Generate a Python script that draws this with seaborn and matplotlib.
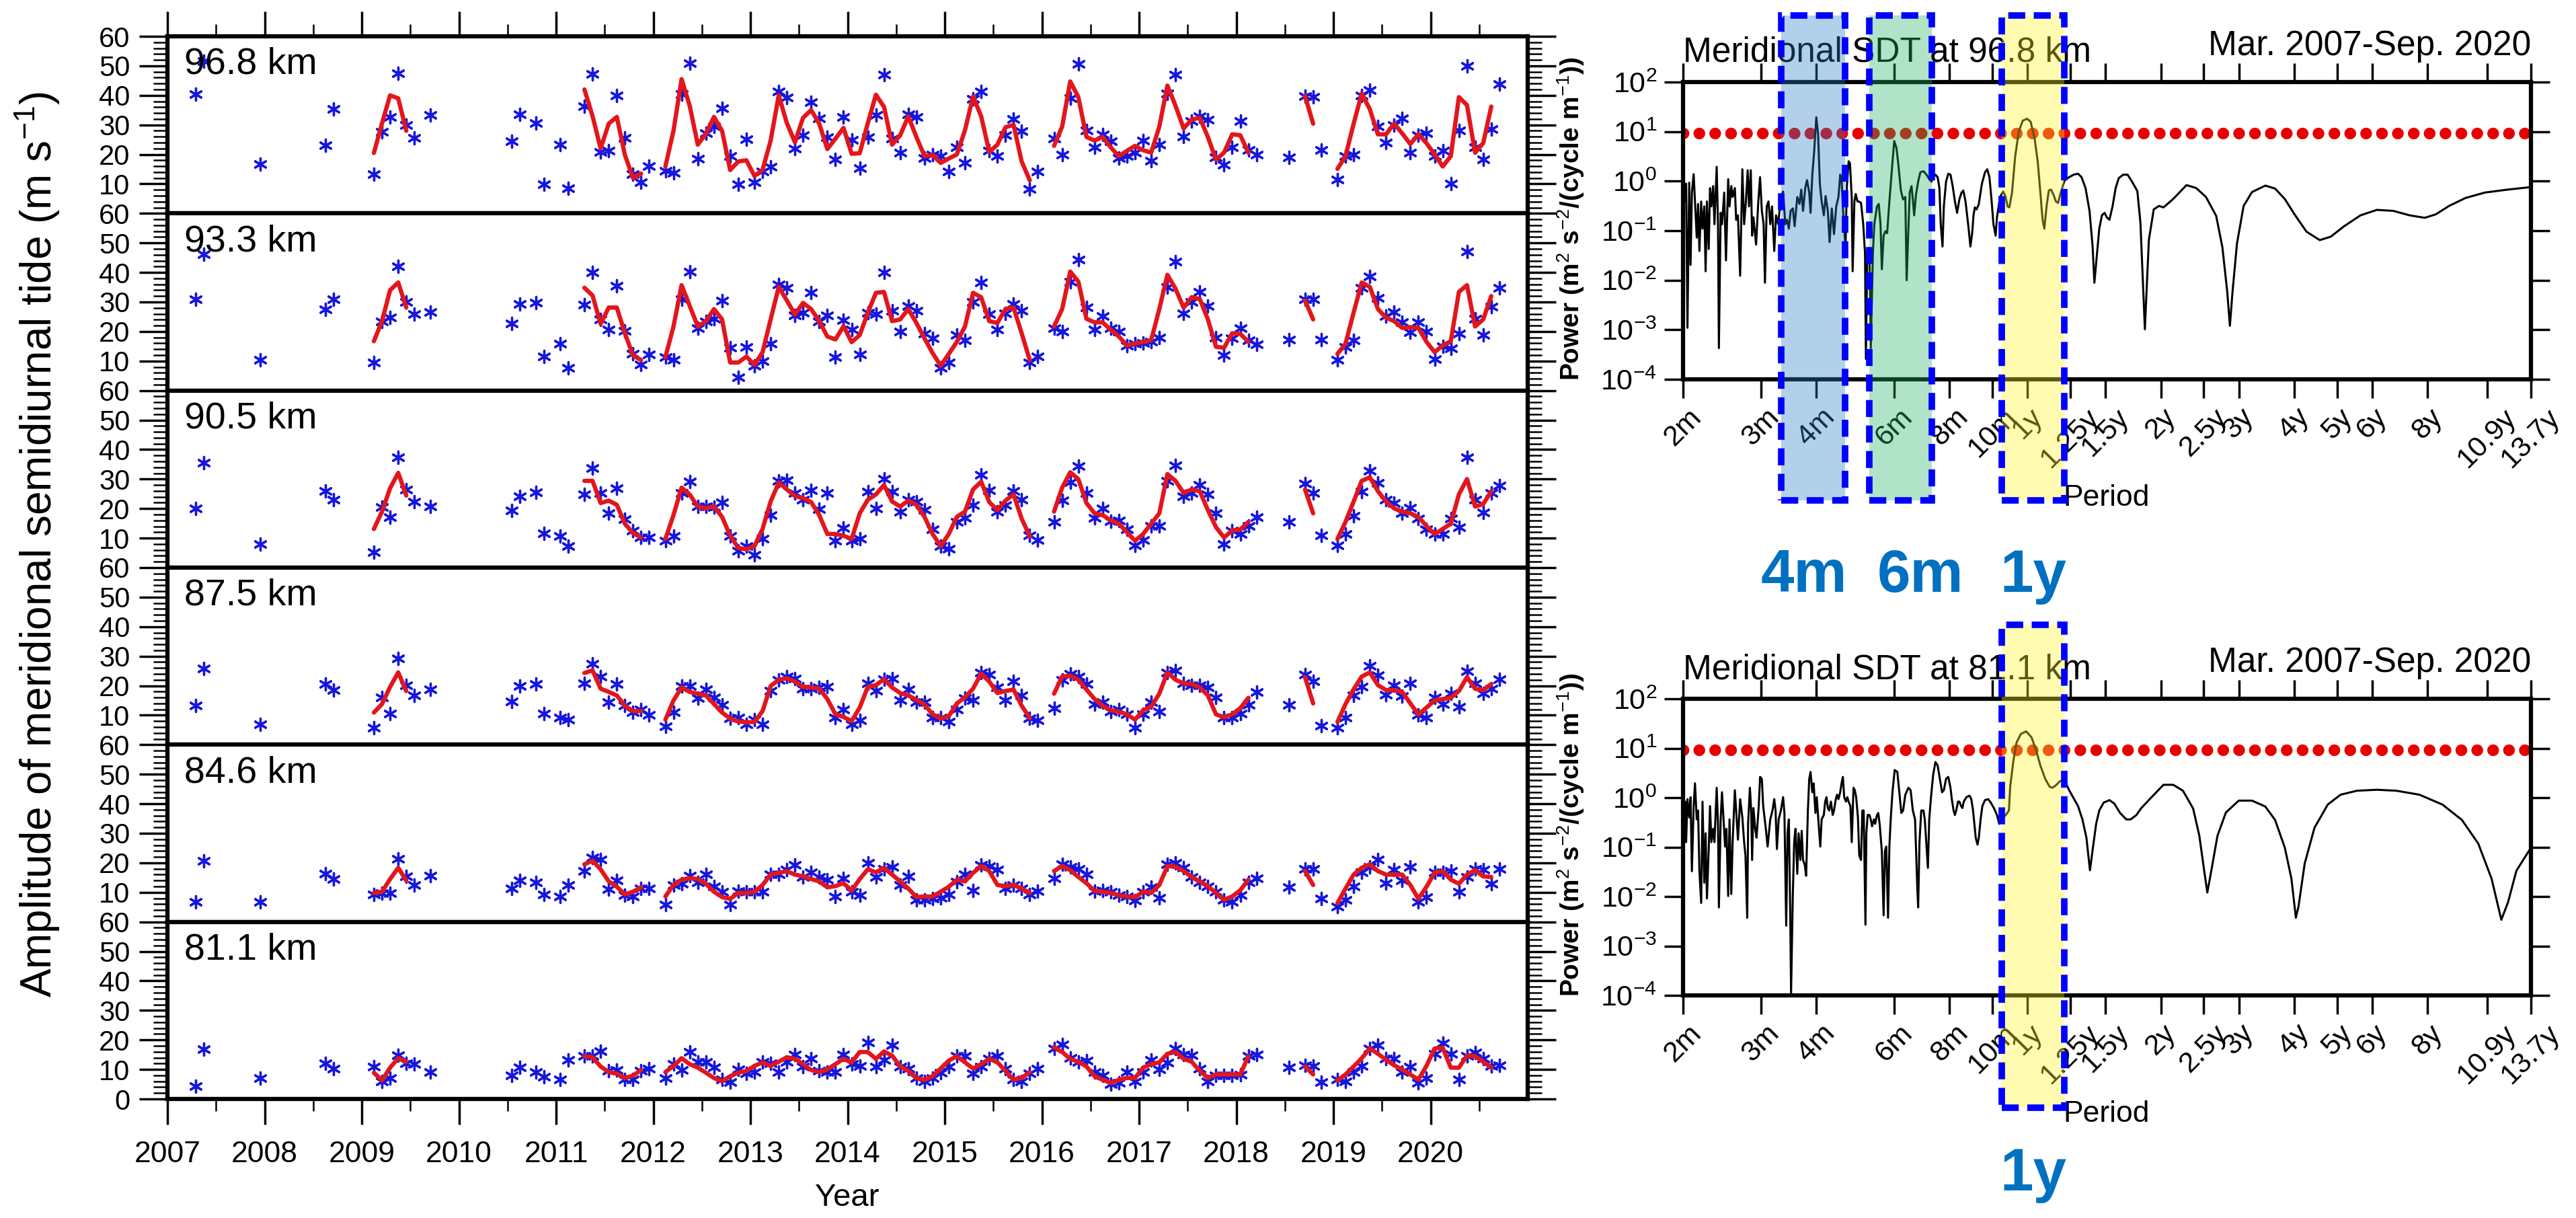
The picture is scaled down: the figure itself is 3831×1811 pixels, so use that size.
import numpy as np
import pandas as pd
import seaborn as sns
import matplotlib
matplotlib.use('Agg')
from matplotlib import pyplot as plt
from matplotlib import transforms
from matplotlib.patches import Rectangle
from matplotlib.ticker import FixedLocator, NullLocator

sns.set_theme(style='ticks', rc={'axes.edgecolor': 'black', 'xtick.color': 'black',
                                 'ytick.color': 'black', 'text.color': 'black'})
plt.rcParams['font.family'] = ['Liberation Sans', 'DejaVu Sans']
plt.rcParams['mathtext.fontset'] = 'custom'
plt.rcParams['mathtext.rm'] = 'Liberation Sans'
plt.rcParams['mathtext.it'] = 'Liberation Sans:italic'
plt.rcParams['mathtext.bf'] = 'Liberation Sans:bold'

#------------------------------------------------
# amplitude time series (months counted from Jan 2007)
#------------------------------------------------
heights = ['96.8 km', '93.3 km', '90.5 km', '87.5 km', '84.6 km', '81.1 km']

obs_months = ([3, 4, 11, 19, 20, 25, 26, 27, 28, 29, 30, 32, 42, 43, 45, 46, 48, 49]
              + list(range(51, 60)) + list(range(61, 108)) + list(range(109, 135))
              + [138, 140, 141, 142] + list(range(144, 165)))
fit_months = (list(range(25, 30)) + list(range(51, 59)) + list(range(61, 107))
              + list(range(109, 134)) + [140, 141] + list(range(144, 164)))

amp_968 = [40.4, 51.5, 16.7, 23.2, 35.5, 13.4, 27.6, 32.7, 47.5, 30.0, 25.6, 33.4, 24.5, 33.6, 30.6, 9.8, 23.3, 8.6,
           36.4, 47.3, 20.9, 21.2, 40.0, 25.6, 13.2, 10.6, 16.1,
           14.5, 13.8, 40.4, 50.8, 18.6, 27.3, 29.4, 35.6, 19.4, 9.8, 25.1, 10.6, 14.1, 15.9, 41.4, 39.2, 21.9, 26.4,
           37.6, 32.1, 25.9, 18.2, 32.7, 24.9, 15.3, 25.9, 33.3, 47.1, 25.3, 20.6, 33.5, 32.6, 18.8, 20.0, 19.4, 14.1,
           22.4, 17.1, 38.8, 41.4, 21.2, 19.4, 26.5, 32.0, 27.9, 8.2, 14.1,
           25.3, 20.0, 39.0, 50.6, 28.2, 22.4, 26.8, 24.5, 18.8, 19.4, 20.6, 24.7, 17.9, 23.3, 40.6, 47.1, 26.1, 31.2,
           32.9, 31.8, 19.1, 16.5, 22.4, 31.2, 21.4, 19.8,
           19.1, 39.8, 39.4, 21.5,
           11.5, 19.4, 19.8, 40.0, 41.8, 29.4, 24.1, 30.0, 32.1, 20.6, 26.5, 27.3, 19.4, 21.2, 10.0, 28.2, 50.0, 22.4,
           18.2, 28.5, 43.9]
fit_968 = [20.5, 30.5, 40.0, 39.0, 28.0,
           42.0, 33.0, 22.0, 30.4, 32.7, 19.8, 12.0, 13.5,
           15.9, 28.0, 45.5, 36.5, 23.3, 27.0, 32.7, 28.0, 14.7, 17.6, 18.0, 12.7, 14.7, 24.7, 40.0, 30.6, 24.1, 32.4,
           35.0, 30.4, 21.8, 25.3, 29.0, 20.2, 20.4, 30.6, 40.2, 36.1, 23.3, 26.5, 32.9, 25.9, 19.4, 19.8, 17.1, 18.6,
           20.0, 28.2, 39.6, 32.9, 20.8, 23.3, 29.2, 30.0, 17.6, 11.2,
           22.9, 29.4, 44.7, 39.4, 25.9, 24.7, 25.9, 22.4, 19.4, 21.2, 22.9, 21.4, 20.6, 29.4, 43.3, 36.5, 28.8, 31.8,
           32.4, 25.9, 18.2, 20.6, 26.8, 26.5, 20.6,
           39.8, 30.4,
           15.1, 19.4, 30.4, 40.6, 35.3, 26.8, 26.8, 30.4, 27.1, 23.5, 26.8, 23.8, 20.0, 15.9, 19.4, 39.4, 36.7, 20.6,
           23.8, 36.2]

amp_933 = [30.8, 46.2, 10.3, 27.6, 30.8, 9.5, 23.5, 24.7, 42.1, 30.1, 25.8, 26.6, 22.7, 29.3, 29.7, 11.6, 15.9, 7.6,
           29.1, 40.1, 24.1, 20.6, 35.5, 20.3, 12.4, 8.7, 12.2,
           11.3, 10.3, 31.0, 40.3, 21.2, 23.5, 24.3, 30.5, 14.5, 4.5, 14.8, 8.4, 9.9, 15.9, 35.9, 34.8, 25.5, 26.4,
           33.1, 23.5, 25.5, 11.3, 23.8, 20.6, 12.2, 26.4, 25.8, 40.1, 27.0, 20.0, 28.7, 27.0, 19.4, 17.7, 7.6, 9.5,
           18.8, 17.1, 29.9, 36.6, 25.8, 20.6, 26.2, 29.3, 27.0, 9.5, 11.6,
           21.2, 20.0, 36.9, 44.4, 28.1, 20.6, 25.2, 21.2, 20.0, 15.3, 15.9, 16.2, 16.5, 18.0, 35.1, 43.6, 26.2, 29.9,
           33.4, 28.7, 18.0, 11.9, 17.7, 21.2, 17.1, 15.7,
           17.3, 31.0, 31.0, 17.3,
           10.3, 14.8, 17.1, 34.8, 38.6, 31.3, 25.2, 26.6, 23.1, 19.7, 23.1, 20.0, 10.7, 15.0, 14.2, 19.4, 47.1, 24.3,
           18.8, 28.5, 34.8]
fit_933 = [16.7, 23.5, 34.0, 36.6, 28.1,
           34.8, 32.2, 22.6, 28.1, 28.1, 19.4, 11.9, 10.3,
           11.3, 21.7, 35.7, 28.7, 21.7, 23.5, 27.6, 24.1, 9.5, 9.5, 11.5, 8.7, 13.0, 24.1, 35.1, 30.5, 25.8, 29.7,
           27.6, 23.5, 18.3, 17.3, 21.8, 16.4, 18.8, 26.4, 33.1, 33.4, 23.5, 24.1, 27.6, 22.9, 17.7, 12.7, 8.4, 12.4,
           16.5, 21.7, 33.1, 31.6, 23.5, 22.9, 27.6, 28.1, 19.4, 10.3,
           21.7, 27.6, 40.3, 36.9, 24.3, 23.1, 23.1, 20.6, 18.3, 15.3, 15.9, 16.5, 17.1, 27.6, 39.2, 34.5, 28.1, 31.6,
           31.0, 24.1, 14.8, 14.5, 19.4, 19.2, 16.5,
           30.5, 24.1,
           12.4, 15.9, 26.4, 36.6, 35.1, 27.6, 24.7, 23.5, 21.2, 21.5, 21.2, 16.5, 13.0, 15.3, 16.7, 33.4, 35.7, 21.7,
           24.1, 32.0]

amp_905 = [20.1, 35.6, 7.9, 25.9, 23.0, 5.3, 20.5, 17.0, 37.3, 26.5, 22.4, 20.7, 19.3, 24.2, 25.6, 11.6, 10.8, 7.3,
           24.8, 33.8, 25.3, 18.4, 26.9, 16.4, 12.6, 10.2, 10.2,
           9.1, 10.6, 25.3, 29.2, 20.7, 20.7, 20.5, 22.2, 10.6, 5.6, 7.3, 4.4, 9.7, 17.8, 29.4, 29.7, 25.3, 23.0,
           26.2, 19.9, 25.3, 9.1, 13.4, 9.1, 9.9, 25.7, 20.1, 30.0, 25.7, 19.0, 23.0, 22.4, 19.5, 12.9, 7.3, 6.4,
           15.5, 16.9, 21.3, 31.5, 26.2, 19.0, 21.3, 25.9, 23.0, 11.0, 9.4,
           15.5, 22.7, 29.0, 34.3, 25.3, 16.9, 20.1, 15.7, 16.0, 12.9, 7.6, 9.4, 14.1, 14.1, 29.4, 34.7, 24.2, 25.3,
           28.0, 24.8, 18.4, 7.9, 12.6, 11.4, 14.1, 17.2,
           15.5, 28.5, 25.3, 11.0,
           7.6, 11.4, 17.6, 25.7, 32.9, 28.8, 23.0, 21.9, 18.4, 20.3, 16.6, 13.1, 11.4, 11.4, 16.6, 13.7, 37.3, 23.0,
           18.7, 25.3, 27.7]
fit_905 = [13.1, 19.0, 26.9, 32.1, 24.4,
           29.4, 29.4, 21.9, 22.7, 21.3, 14.9, 11.7, 10.2,
           9.7, 17.8, 27.1, 24.8, 20.7, 20.1, 20.7, 17.2, 10.8, 6.7, 6.2, 7.3, 13.1, 22.4, 28.8, 26.5, 24.2, 23.6,
           22.2, 17.8, 11.4, 11.4, 10.8, 9.7, 18.4, 23.0, 24.8, 28.0, 22.4, 20.7, 22.7, 21.3, 17.2, 11.4, 7.3, 11.4,
           17.2, 19.0, 26.5, 29.1, 22.2, 19.5, 22.7, 24.8, 16.6, 10.6,
           19.0, 27.1, 32.3, 30.0, 21.9, 18.4, 17.8, 16.0, 14.9, 12.0, 9.1, 11.4, 14.9, 18.4, 31.7, 29.4, 25.3, 26.5,
           25.9, 19.5, 13.7, 10.2, 12.6, 12.9, 15.5,
           26.5, 18.4,
           9.7, 15.5, 22.4, 29.4, 30.6, 25.9, 22.4, 20.1, 19.0, 18.4, 17.2, 14.1, 11.4, 13.1, 14.9, 24.8, 30.0, 20.7,
           21.5, 25.9]

amp_875 = [13.2, 25.8, 7.0, 20.6, 18.5, 5.8, 16.1, 10.6, 29.3, 20.2, 16.7, 18.8, 14.7, 19.9, 20.6, 10.5, 9.3, 8.5,
           20.8, 27.5, 23.1, 14.4, 20.6, 13.2, 10.9, 12.0, 10.0,
           6.2, 10.9, 19.9, 19.9, 15.9, 18.7, 16.1, 13.6, 8.9, 9.3, 7.0, 8.5, 7.0, 18.2, 22.0, 23.1, 22.5, 19.0,
           19.0, 19.4, 19.6, 9.1, 12.0, 7.0, 8.2, 20.8, 18.2, 22.2, 22.5, 15.2, 18.7, 14.4, 14.4, 9.1, 9.1, 7.9,
           12.0, 15.9, 15.2, 24.5, 23.7, 19.4, 15.2, 21.4, 16.7, 8.9, 8.2,
           12.4, 22.0, 24.1, 23.1, 20.6, 13.8, 14.4, 11.2, 12.0, 10.3, 5.8, 10.3, 14.4, 11.2, 24.5, 25.2, 20.8, 20.2,
           20.2, 19.4, 16.1, 9.1, 9.1, 10.5, 13.6, 17.9,
           13.6, 23.7, 21.4, 6.5,
           5.8, 9.3, 16.7, 19.6, 26.8, 23.5, 17.0, 20.2, 16.4, 20.8, 10.0, 9.3, 16.1, 13.8, 17.5, 12.9, 24.9, 20.8,
           17.5, 19.0, 22.2]
fit_875 = [10.9, 13.8, 19.6, 24.5, 18.2,
           24.3, 25.2, 19.0, 17.9, 16.7, 13.2, 11.4, 11.4,
           8.5, 15.0, 19.4, 17.9, 17.3, 16.7, 13.8, 10.9, 8.9, 7.9, 7.6, 7.7, 11.4, 19.9, 22.0, 22.5, 21.4, 19.6,
           19.4, 19.0, 15.5, 10.3, 9.4, 8.0, 12.6, 19.6, 20.2, 22.2, 19.4, 17.5, 16.7, 15.2, 13.6, 10.3, 8.9, 9.7,
           14.0, 16.1, 19.0, 24.1, 21.4, 17.5, 18.2, 18.7, 13.2, 9.1,
           17.3, 23.1, 23.4, 22.0, 18.7, 15.5, 13.2, 11.7, 11.2, 10.3, 8.5, 11.7, 12.9, 17.3, 24.5, 22.0, 20.8, 20.6,
           19.4, 16.7, 10.3, 9.3, 10.3, 12.4, 15.9,
           22.9, 14.0,
           7.7, 13.8, 18.8, 23.1, 24.5, 20.2, 18.5, 18.5, 17.9, 14.0, 10.3, 12.6, 15.0, 15.5, 15.9, 18.2, 22.9, 19.0,
           18.5, 20.6]

amp_846 = [6.7, 20.7, 6.7, 16.4, 14.5, 9.3, 9.8, 9.8, 21.3, 15.4, 12.5, 15.7, 11.3, 14.0, 13.3, 9.2, 8.6, 12.5,
           17.2, 21.8, 21.0, 11.0, 14.0, 9.0, 8.6, 11.3, 11.3,
           5.8, 12.5, 12.9, 15.7, 13.3, 16.0, 11.9, 10.2, 5.8, 10.5, 10.2, 10.2, 10.2, 16.0, 16.0, 17.8, 19.2, 15.2,
           16.8, 15.2, 14.3, 8.6, 14.8, 10.2, 9.0, 19.9, 15.2, 17.9, 18.7, 12.4, 15.4, 7.5, 7.5, 7.8, 8.2, 9.3,
           13.6, 16.0, 10.7, 19.2, 18.9, 17.8, 11.3, 12.5, 11.3, 9.3, 10.5,
           14.8, 19.5, 18.7, 18.0, 16.0, 10.5, 10.7, 10.2, 9.0, 8.6, 7.2, 10.2, 11.7, 8.2, 19.5, 19.9, 18.3, 15.2,
           13.3, 12.1, 10.2, 7.5, 6.7, 9.0, 13.3, 14.8,
           11.7, 18.0, 18.0, 7.8,
           5.1, 7.5, 12.1, 16.8, 18.5, 21.0, 13.1, 17.8, 14.0, 18.7, 6.7, 8.4, 16.8, 16.8, 17.2, 10.2, 15.2, 18.0,
           17.8, 12.9, 18.0]
fit_846 = [9.8, 10.2, 14.5, 18.3, 14.0,
           19.5, 20.7, 17.8, 13.7, 11.9, 9.3, 10.2, 11.7,
           8.6, 12.5, 14.3, 14.8, 14.5, 12.9, 10.2, 8.4, 7.8, 9.8, 9.8, 10.2, 12.5, 16.0, 16.6, 17.2, 16.0, 15.4,
           14.5, 13.7, 11.7, 12.1, 13.1, 10.6, 14.5, 17.8, 16.8, 18.3, 16.0, 13.7, 11.3, 8.4, 8.6, 8.6, 10.2, 11.9,
           14.3, 13.7, 16.6, 18.9, 17.2, 12.5, 12.1, 12.5, 11.3, 9.8,
           17.2, 18.9, 17.5, 15.2, 13.1, 10.5, 10.2, 9.8, 9.0, 8.6, 8.4, 10.2, 9.8, 12.5, 18.9, 18.7, 17.2, 15.2,
           13.7, 12.1, 9.8, 7.5, 8.6, 10.7, 14.3,
           17.2, 12.5,
           6.3, 11.3, 16.0, 18.3, 19.5, 17.2, 16.0, 16.0, 16.0, 12.5, 7.8, 11.9, 16.6, 17.2, 14.3, 12.9, 16.0, 17.5,
           15.4, 15.2]

amp_811 = [4.4, 16.8, 7.1, 12.1, 10.3, 11.0, 6.0, 7.1, 14.7, 12.1, 11.8, 9.1, 7.9, 10.6, 9.1, 7.5, 6.5, 13.3,
           14.5, 14.5, 16.1, 9.5, 9.8, 6.5, 6.5, 9.5, 10.3,
           7.1, 11.8, 9.8, 15.9, 12.6, 12.6, 10.6, 6.5, 5.6, 10.0, 8.6, 9.1, 12.6, 12.1, 9.1, 12.6, 15.0, 11.0,
           13.6, 9.5, 9.1, 9.1, 15.0, 11.8, 11.2, 19.2, 11.0, 13.3, 18.2, 11.0, 10.3, 7.1, 6.0, 7.1, 8.9, 11.0,
           14.5, 14.5, 8.6, 11.0, 13.6, 14.5, 10.3, 6.5, 6.0, 8.6, 10.3,
           17.1, 18.5, 13.8, 12.6, 13.0, 9.1, 7.9, 5.1, 5.4, 9.1, 6.0, 9.1, 13.3, 10.0, 12.4, 17.1, 15.0, 14.7,
           10.3, 6.0, 7.9, 7.9, 7.9, 8.3, 14.5, 15.0,
           10.6, 11.4, 11.2, 5.6,
           6.5, 6.0, 9.1, 11.2, 17.1, 18.2, 13.6, 13.6, 9.1, 11.0, 5.4, 7.1, 15.3, 18.8, 15.3, 6.5, 14.5, 15.7,
           13.6, 11.2, 11.4]
fit_811 = [8.9, 6.3, 10.6, 13.8, 12.6,
           14.5, 14.1, 11.0, 9.1, 8.6, 7.1, 7.9, 9.8,
           9.1, 11.2, 13.8, 11.8, 10.6, 8.9, 7.1, 6.0, 7.7, 8.9, 9.5, 11.2, 12.4, 11.2, 12.6, 14.1, 13.6, 11.8,
           9.8, 9.1, 10.0, 11.8, 13.6, 12.4, 15.9, 15.9, 13.6, 16.1, 14.7, 11.0, 9.5, 7.1, 6.5, 7.7, 10.3, 13.0,
           14.5, 12.4, 10.3, 11.8, 13.6, 12.4, 9.5, 6.5, 7.1, 9.1,
           17.6, 15.9, 13.6, 12.6, 11.0, 7.7, 6.5, 5.4, 6.5, 7.1, 7.1, 10.6, 11.8, 12.4, 15.3, 15.9, 13.6, 12.6,
           9.5, 7.1, 8.3, 8.3, 8.3, 8.3, 14.5,
           11.0, 8.3,
           6.3, 8.3, 11.0, 13.8, 17.1, 15.3, 13.3, 11.4, 10.0, 8.3, 6.5, 11.2, 17.1, 17.3, 10.6, 10.6, 14.7, 14.5,
           12.6, 10.6]

#------------------------------------------------
# power spectra: (log10 period [months], log10 power)
#------------------------------------------------
spec_968 = [(0.303, -0.46), (0.308, -0.05), (0.311, -2.96), (0.315, -0.03), (0.318, -1.69), (0.321, -0.23),
            (0.325, 0.14), (0.328, -0.41), (0.332, -1.14), (0.335, -0.46), (0.338, -1.41), (0.342, -0.41),
            (0.345, -0.96), (0.349, -0.51), (0.352, -1.82), (0.355, -0.41), (0.359, -1.37), (0.362, -0.14),
            (0.365, -0.51), (0.369, -0.10), (0.372, -0.87), (0.377, 0.29), (0.380, -0.87), (0.382, -3.37),
            (0.386, -0.64), (0.389, -0.87), (0.394, -0.23), (0.398, -1.60), (0.403, 0.04), (0.406, -0.51),
            (0.410, -0.10), (0.413, -0.32), (0.418, -0.14), (0.421, -0.78), (0.425, -0.69), (0.430, -1.91),
            (0.435, 0.24), (0.439, -0.87), (0.443, -0.41), (0.447, 0.22), (0.450, -0.51), (0.454, 0.22),
            (0.457, -1.10), (0.460, -0.73), (0.466, -1.28), (0.471, -0.41), (0.475, 0.08), (0.479, -0.60),
            (0.483, -0.87), (0.486, -2.05), (0.490, -0.51), (0.494, -0.41), (0.498, -0.87), (0.502, -0.51),
            (0.507, -1.41), (0.511, -0.69), (0.516, -0.87), (0.522, -0.32), (0.527, -0.21), (0.532, -0.87),
            (0.536, -0.78), (0.540, -0.96), (0.544, -0.60), (0.549, -0.55), (0.553, -0.91), (0.559, -0.32),
            (0.564, -0.46), (0.568, -0.17), (0.572, -0.60), (0.577, -0.14), (0.581, 0.02), (0.586, -0.23),
            (0.589, -0.64), (0.593, 0.13), (0.597, 0.58), (0.602, 1.29), (0.606, 0.95), (0.610, -0.05),
            (0.614, -0.41), (0.619, -0.69), (0.623, -0.30), (0.628, -0.60), (0.632, -1.23), (0.637, -0.55),
            (0.642, -1.07), (0.647, -0.51), (0.652, -0.32), (0.656, 0.13), (0.659, 0.04), (0.664, -0.87),
            (0.668, -1.32), (0.671, -0.10), (0.675, 0.40), (0.678, 0.36), (0.682, -0.32), (0.684, -1.82),
            (0.688, -0.41), (0.691, -0.26), (0.695, -0.41), (0.698, -0.41), (0.703, -0.44), (0.708, -0.87),
            (0.712, -1.46), (0.714, -3.59), (0.717, -1.50), (0.722, -1.41), (0.725, -3.37), (0.730, -1.41),
            (0.733, -0.87), (0.739, -0.51), (0.743, -0.46), (0.747, -0.87), (0.750, -1.78), (0.754, -1.10),
            (0.758, -1.01), (0.762, -1.05), (0.767, -0.41), (0.773, 0.27), (0.778, 0.81), (0.783, 0.67),
            (0.787, 0.36), (0.793, -0.19), (0.798, -0.37), (0.803, -0.32), (0.806, -2.00), (0.810, -0.96),
            (0.813, -0.23), (0.817, -0.10), (0.820, -0.37), (0.823, -0.69), (0.827, -0.28), (0.832, -0.01),
            (0.837, 0.18), (0.844, 0.20), (0.851, 0.13), (0.857, 0.04), (0.862, -0.01), (0.866, 0.08),
            (0.871, 0.13), (0.876, 0.08), (0.880, -0.14), (0.883, -0.87), (0.887, -1.32), (0.890, -0.51),
            (0.895, -0.01), (0.900, 0.15), (0.905, 0.13), (0.910, -0.10), (0.915, -0.41), (0.920, -0.64),
            (0.925, -0.37), (0.930, -0.23), (0.934, -0.19), (0.939, -0.41), (0.946, -0.96), (0.950, -1.32),
            (0.954, -1.05), (0.957, -0.69), (0.960, -0.53), (0.964, -0.57), (0.969, -0.46), (0.976, -0.05),
            (0.983, 0.18), (0.988, 0.24), (0.993, 0.08), (0.998, -0.41), (1.002, -0.87), (1.007, -1.10),
            (1.010, -0.73), (1.017, -0.32), (1.024, -0.21), (1.029, -0.30), (1.034, -0.51), (1.038, -0.53),
            (1.044, -0.23), (1.051, 0.49), (1.059, 0.99), (1.068, 1.22), (1.078, 1.26), (1.086, 1.20),
            (1.095, 0.86), (1.102, 0.40), (1.108, -0.23), (1.113, -0.78), (1.117, -0.96), (1.122, -0.51),
            (1.127, -0.19), (1.132, -0.17), (1.138, -0.28), (1.143, -0.41), (1.148, -0.44), (1.154, -0.23),
            (1.163, 0.02), (1.173, 0.08), (1.183, 0.13), (1.193, 0.15), (1.201, 0.08), (1.210, -0.14),
            (1.219, -0.60), (1.226, -1.32), (1.230, -2.05), (1.235, -1.55), (1.241, -0.96), (1.247, -0.69),
            (1.253, -0.64), (1.258, -0.73), (1.264, -0.78), (1.271, -0.51), (1.278, -0.14), (1.285, 0.06),
            (1.295, 0.13), (1.305, 0.13), (1.315, -0.01), (1.327, -0.20), (1.334, -0.84), (1.344, -2.99),
            (1.353, -1.19), (1.364, -0.57), (1.376, -0.50), (1.386, -0.53), (1.408, -0.36), (1.438, -0.08),
            (1.460, -0.14), (1.482, -0.32), (1.505, -0.70), (1.519, -1.33), (1.530, -2.23), (1.536, -2.92),
            (1.542, -2.23), (1.552, -1.26), (1.567, -0.50), (1.586, -0.22), (1.616, -0.09), (1.638, -0.15),
            (1.660, -0.36), (1.682, -0.67), (1.709, -1.02), (1.739, -1.19), (1.764, -1.12), (1.794, -0.91),
            (1.831, -0.69), (1.868, -0.58), (1.905, -0.60), (1.942, -0.69), (1.976, -0.74), (2.001, -0.67),
            (2.031, -0.50), (2.068, -0.34), (2.112, -0.23), (2.164, -0.17), (2.216, -0.12)]

spec_811 = [(0.303, -0.99), (0.306, -0.08), (0.308, -0.90), (0.311, -0.03), (0.315, -0.40), (0.318, 0.01),
            (0.321, -1.49), (0.325, -0.17), (0.328, 0.29), (0.332, -0.44), (0.335, -0.26), (0.338, -1.49),
            (0.342, -2.13), (0.345, -0.08), (0.349, -1.72), (0.352, -0.72), (0.355, -2.04), (0.359, -1.04),
            (0.362, -0.17), (0.365, -0.90), (0.369, -0.63), (0.372, -0.90), (0.377, 0.20), (0.380, -0.53),
            (0.382, -2.22), (0.386, -0.44), (0.389, 0.11), (0.393, -0.53), (0.396, -0.99), (0.399, -0.63),
            (0.403, -1.99), (0.406, -0.44), (0.410, -1.95), (0.413, -0.90), (0.418, 0.15), (0.421, -0.26),
            (0.425, -0.85), (0.430, -0.03), (0.435, -0.40), (0.439, -0.90), (0.442, -1.17), (0.446, -2.43),
            (0.448, -0.53), (0.452, 0.20), (0.455, -0.26), (0.457, -1.26), (0.460, -0.21), (0.464, -0.63),
            (0.467, -0.81), (0.472, -0.17), (0.475, 0.42), (0.479, 0.38), (0.482, -0.17), (0.488, -0.63),
            (0.492, -0.99), (0.498, -0.44), (0.503, -0.26), (0.507, -0.03), (0.510, -0.26), (0.513, -1.04),
            (0.517, -0.44), (0.522, -0.26), (0.527, 0.01), (0.530, -0.31), (0.534, -2.59), (0.537, -0.72),
            (0.540, -0.44), (0.543, -2.27), (0.545, -3.96), (0.549, -1.95), (0.552, -0.90), (0.555, -0.63),
            (0.559, -1.54), (0.562, -0.72), (0.566, -1.26), (0.569, -0.67), (0.572, -1.26), (0.576, -1.36),
            (0.579, -1.58), (0.583, -0.26), (0.586, 0.38), (0.589, 0.52), (0.593, 0.11), (0.596, 0.29),
            (0.600, -0.31), (0.603, 0.01), (0.608, -0.63), (0.611, -0.99), (0.614, -0.44), (0.619, -0.35),
            (0.622, -0.08), (0.625, 0.01), (0.628, -0.21), (0.631, -0.26), (0.635, -0.08), (0.639, -0.35),
            (0.642, -0.26), (0.646, -0.03), (0.649, 0.06), (0.652, -0.03), (0.656, 0.11), (0.659, 0.29),
            (0.662, 0.42), (0.665, 0.01), (0.669, -0.08), (0.672, 0.01), (0.675, -0.08), (0.679, -0.17),
            (0.682, -0.90), (0.686, 0.20), (0.689, 0.15), (0.692, 0.01), (0.696, -0.40), (0.699, -1.17),
            (0.703, -1.26), (0.706, -0.26), (0.709, -0.26), (0.713, -2.57), (0.715, -0.72), (0.718, -0.35),
            (0.722, -0.35), (0.725, -0.44), (0.728, -0.58), (0.732, -0.44), (0.735, -0.53), (0.739, -0.35),
            (0.742, -0.31), (0.745, -0.53), (0.750, -1.08), (0.754, -2.38), (0.757, -1.08), (0.760, -0.99),
            (0.764, -2.43), (0.767, -0.99), (0.770, -0.44), (0.774, 0.11), (0.779, 0.56), (0.785, 0.52),
            (0.789, 0.15), (0.794, -0.31), (0.798, -0.26), (0.803, 0.06), (0.810, 0.20), (0.815, 0.15),
            (0.820, -0.26), (0.825, -0.44), (0.830, -1.81), (0.832, -2.22), (0.835, -0.90), (0.839, -0.26),
            (0.844, -0.26), (0.847, -0.44), (0.851, -0.99), (0.854, -1.42), (0.857, -0.44), (0.861, 0.01),
            (0.866, 0.47), (0.871, 0.72), (0.876, 0.65), (0.881, 0.38), (0.886, 0.11), (0.890, 0.15),
            (0.895, 0.38), (0.900, 0.42), (0.905, 0.20), (0.908, -0.03), (0.912, -0.26), (0.915, -0.35),
            (0.918, -0.26), (0.922, -0.08), (0.925, -0.08), (0.929, -0.17), (0.932, -0.21), (0.935, -0.08),
            (0.941, 0.01), (0.948, 0.04), (0.952, -0.03), (0.956, -0.26), (0.959, -0.53), (0.962, -0.81),
            (0.966, -0.95), (0.969, -0.81), (0.973, -0.44), (0.977, -0.17), (0.983, -0.05), (0.990, -0.03),
            (0.996, -0.10), (1.003, -0.21), (1.010, -0.35), (1.015, -0.53), (1.024, -0.40), (1.030, -0.35),
            (1.037, -0.26), (1.040, 0.24), (1.047, 0.74), (1.054, 1.11), (1.064, 1.29), (1.076, 1.34),
            (1.088, 1.22), (1.098, 0.97), (1.108, 0.65), (1.119, 0.38), (1.129, 0.22), (1.135, 0.20),
            (1.142, 0.24), (1.152, 0.33), (1.159, 0.36), (1.166, 0.29), (1.173, 0.15), (1.183, -0.01),
            (1.193, -0.17), (1.203, -0.44), (1.212, -0.81), (1.220, -1.47), (1.227, -0.99), (1.234, -0.53),
            (1.241, -0.26), (1.251, -0.10), (1.264, -0.05), (1.275, -0.12), (1.288, -0.31), (1.302, -0.44),
            (1.312, -0.44), (1.325, -0.35), (1.336, -0.21), (1.356, -0.02), (1.386, 0.26), (1.408, 0.26),
            (1.430, 0.14), (1.453, -0.22), (1.467, -0.77), (1.478, -1.48), (1.485, -1.92), (1.494, -1.48),
            (1.508, -0.77), (1.527, -0.30), (1.556, -0.06), (1.586, -0.06), (1.616, -0.18), (1.638, -0.45),
            (1.660, -1.01), (1.675, -1.64), (1.685, -2.43), (1.691, -2.20), (1.705, -1.33), (1.727, -0.61),
            (1.757, -0.14), (1.786, 0.06), (1.823, 0.14), (1.868, 0.16), (1.912, 0.14), (1.964, 0.06),
            (2.016, -0.14), (2.060, -0.45), (2.097, -0.93), (2.127, -1.64), (2.149, -2.47), (2.164, -2.12),
            (2.183, -1.48), (2.216, -1.01)]

signif_level = 9.2   # red dotted reference level

period_ticks = [2, 3, 4, 6, 8, 10, 12, 15, 18, 24, 30, 36, 48, 60, 72, 96, 130.8, 164.4]
period_labels = ['2m', '3m', '4m', '6m', '8m', '10m', '1y', '1.25y', '1.5y', '2y', '2.5y', '3y',
                 '4y', '5y', '6y', '8y', '10.9y', '13.7y']
power_ticks = [1e-4, 1e-3, 1e-2, 1e-1, 1e0, 1e1, 1e2]
power_labels = [r'$\mathregular{10^{%d}}$' % e for e in range(-4, 3)]

# highlighted period bands (months)
band_4m = (3.33, 4.65)
band_6m = (5.27, 7.28)
band_1y = (10.5, 14.5)

#------------------------------------------------
W, H = 3831, 1811
fig = plt.figure(figsize=(W / 100, H / 100), dpi=100)


def fx(x):
    return x / W


def fy(y):
    return 1 - y / H


# -------- left: six stacked amplitude panels --------
amps = [amp_968, amp_933, amp_905, amp_875, amp_846, amp_811]
fits = [fit_968, fit_933, fit_905, fit_875, fit_846, fit_811]
obs_year = 2007 + (np.array(obs_months) + 0.5) / 12
fm = np.array(fit_months)
fit_year = 2007 + (fm + 0.5) / 12
fit_seg = np.concatenate([[0], np.cumsum(np.diff(fm) > 1)])

top_px, bot_px = 54, 1634
ph = (bot_px - top_px) / 6
for i in range(6):
    ax = fig.add_axes([fx(249), fy(top_px + (i + 1) * ph), fx(2272) - fx(249), ph / H])
    df_obs = pd.DataFrame({'year': obs_year, 'amp': amps[i]})
    df_fit = pd.DataFrame({'year': fit_year, 'amp': fits[i], 'seg': fit_seg})
    sns.scatterplot(data=df_obs, x='year', y='amp', marker=(6, 2, 0), s=170, color='#1616DC',
                    linewidth=2.4, ax=ax, zorder=2, legend=False)
    sns.lineplot(data=df_fit, x='year', y='amp', units='seg', estimator=None, color='#E3161B',
                 linewidth=4.6, ax=ax, zorder=3, legend=False)
    ax.set_xlim(2007, 2021)
    ax.set_ylim(0, 60)
    ax.set_xlabel('')
    ax.set_ylabel('')
    ax.set_xticks(range(2007, 2021))
    ax.set_xticklabels([str(y) for y in range(2007, 2021)])
    ax.xaxis.set_minor_locator(FixedLocator(np.arange(2007.5, 2021, 1.0)))
    ax.set_yticks(range(0 if i == 5 else 10, 61, 10))
    ax.yaxis.set_minor_locator(FixedLocator(range(0, 61, 2)))
    ax.tick_params(axis='y', which='major', direction='out', length=30, width=2.5, labelsize=30,
                   pad=10, left=True, right=True)
    ax.tick_params(axis='y', which='minor', direction='out', length=15, width=1.8, left=True, right=True)
    ax.tick_params(axis='x', which='major', direction='out', length=27, width=2.5, labelsize=32, pad=18,
                   top=(i == 0), bottom=(i == 5), labelbottom=(i == 5))
    ax.tick_params(axis='x', which='minor', direction='out', length=13, width=1.8,
                   top=(i == 0), bottom=(i == 5))
    for sp in ax.spines.values():
        sp.set_visible(True)
        sp.set_linewidth(4.5)
        sp.set_color('black')
    ax.text(25 / 2023, 1 - 16 / ph, heights[i], transform=ax.transAxes, ha='left', va='top', fontsize=40)

fig.text(fx(56), fy(810), r'Amplitude of meridional semidiurnal tide (m s$^{\mathregular{-1}}$)',
         rotation=90, ha='center', va='center', fontsize=46)
fig.text(fx(1260), fy(1781), 'Year', ha='center', va='center', fontsize=34)

# -------- right: two power spectra --------
spectra = [
    (spec_968, 'Meridional SDT at 96.8 km', 122, 564, [band_4m, band_6m, band_1y], (23, 744), 880),
    (spec_811, 'Meridional SDT at 81.1 km', 1039, 1480, [band_1y], (929, 1647), 1770),
]
band_faces = {band_4m: (42 / 255, 127 / 255, 198 / 255, 0.36),
              band_6m: (37 / 255, 180 / 255, 100 / 255, 0.36),
              band_1y: (1.0, 248 / 255, 43 / 255, 0.36)}
band_names = {band_4m: '4m', band_6m: '6m', band_1y: '1y'}
band_nudge = {band_4m: -14, band_6m: 30, band_1y: 0}   # label offsets in pixels

for spec, title, t_px, b_px, bands, (by0, by1), big_base in spectra:
    ax = fig.add_axes([fx(2503), fy(b_px), fx(3764) - fx(2503), (b_px - t_px) / H])
    ax.set_xscale('log')
    ax.set_yscale('log')
    lp, lP = zip(*spec)
    df_s = pd.DataFrame({'period': 10 ** np.array(lp), 'power': 10 ** np.array(lP)})
    ax.axhline(signif_level, color='#E80000', lw=12.5, ls=(0, (0.01, 1.35)), dash_capstyle='round', zorder=1)
    sns.lineplot(data=df_s, x='period', y='power', estimator=None, sort=False, color='black',
                 linewidth=2.2, ax=ax, zorder=2, legend=False)
    ax.set_xlim(2, 164.4)
    ax.set_ylim(1e-4, 1e2)
    ax.set_xlabel('')
    ax.set_ylabel('')
    ax.set_xticks(period_ticks)
    ax.set_xticklabels(period_labels, rotation=45, ha='center')
    ax.xaxis.set_minor_locator(NullLocator())
    ax.set_yticks(power_ticks)
    ax.set_yticklabels(power_labels)
    ax.yaxis.set_minor_locator(NullLocator())
    ax.tick_params(axis='x', which='major', direction='out', length=20, width=2.5, labelsize=31, pad=6,
                   top=True, bottom=True)
    ax.tick_params(axis='y', which='major', direction='out', length=20, width=2.5, labelsize=31, pad=8,
                   left=True, right=True)
    for sp in ax.spines.values():
        sp.set_visible(True)
        sp.set_linewidth(4.5)
        sp.set_color('black')

    fig.text(fx(2503), fy(t_px - 30), title, ha='left', va='baseline', fontsize=37)
    fig.text(fx(3764), fy(t_px - 40), 'Mar. 2007-Sep. 2020', ha='right', va='baseline', fontsize=37)
    fig.text(fx(3133), fy(b_px + 188), 'Period', ha='center', va='baseline', fontsize=32)
    fig.text(fx(2336), fy((t_px + b_px) / 2 - 18), r'Power (m$^{2}$ s$^{-2}$/(cycle m$^{-1}$))',
             rotation=90, ha='center', va='center', fontsize=28, weight='bold')

    blend = transforms.blended_transform_factory(ax.transData, fig.transFigure)
    for band in bands:
        lo, hi = band
        fig.add_artist(Rectangle((lo, fy(by1)), hi - lo, fy(by0) - fy(by1), transform=blend,
                                 facecolor=band_faces[band], edgecolor='none', zorder=5))
        fig.add_artist(Rectangle((lo, fy(by1)), hi - lo, fy(by0) - fy(by1), transform=blend,
                                 facecolor='none', edgecolor='#0000FF', lw=7, ls=(0, (2.6, 1.3)),
                                 joinstyle='miter', zorder=6))
        lab = fig.text(np.sqrt(lo * hi), fy(big_base), band_names[band], transform=blend, ha='center',
                       va='baseline', fontsize=64, weight='bold', color='#0070C0')
        lab.set_transform(blend + transforms.ScaledTranslation(band_nudge[band] / 100, 0,
                                                               fig.dpi_scale_trans))

fig.savefig('out.png', dpi=100)
